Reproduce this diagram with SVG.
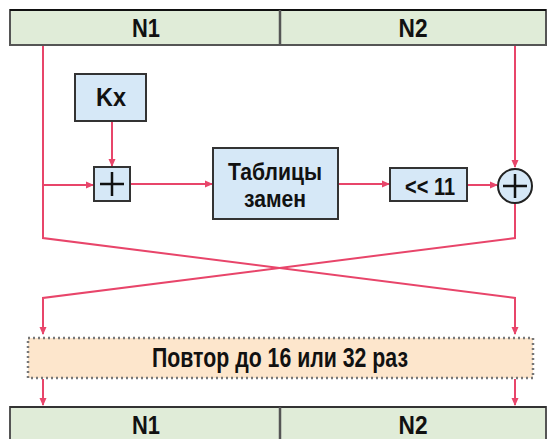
<svg xmlns="http://www.w3.org/2000/svg" width="549" height="439" viewBox="0 0 549 439">
<defs>
<marker id="ah" markerWidth="8" markerHeight="8" refX="7" refY="4" orient="auto" markerUnits="userSpaceOnUse">
<path d="M0,0.5 L8,4 L0,7.5 Z" fill="#e8456a"/>
</marker>
</defs>
<style>
.bar{fill:#e0ecd8;stroke:#555;stroke-width:2}
.box{fill:#d6e8f7;stroke:#333;stroke-width:2}
.rep{fill:#fde6cc;stroke:#777;stroke-width:2.5;stroke-dasharray:2 3}
.ln{fill:none;stroke:#e8456a;stroke-width:2}
.t{font-family:"Liberation Sans Narrow","Liberation Sans",Arial,sans-serif;font-weight:bold;fill:#111;text-anchor:middle}
.op{stroke:#111;stroke-width:2.5;fill:none}
</style>
<rect width="549" height="439" fill="#fff"/>
<g id="top">
<rect class="bar" x="10" y="10" width="536" height="35"/>
<line x1="10" y1="10" x2="546" y2="10" stroke="#111" stroke-width="2"/>
<line x1="280" y1="10" x2="280" y2="45" stroke="#555" stroke-width="2.5"/>
<text class="t" x="146" y="37" font-size="25" textLength="28" lengthAdjust="spacingAndGlyphs">N1</text>
<text class="t" x="413" y="37" font-size="25" textLength="29" lengthAdjust="spacingAndGlyphs">N2</text>
</g>
<g id="connectors">
<path class="ln" d="M43,46 V238 L515,298 V334" marker-end="url(#ah)"/>
<path class="ln" d="M515,46 V167" marker-end="url(#ah)"/>
<path class="ln" d="M515,203 V238 L43,298 V334" marker-end="url(#ah)"/>
<path class="ln" d="M43,185 H93" marker-end="url(#ah)"/>
<path class="ln" d="M112,122 V166" marker-end="url(#ah)"/>
<path class="ln" d="M131,184 H212" marker-end="url(#ah)"/>
<path class="ln" d="M339,184 H389" marker-end="url(#ah)"/>
<path class="ln" d="M467,185 H497" marker-end="url(#ah)"/>
<path class="ln" d="M43,379 V405" marker-end="url(#ah)"/>
<path class="ln" d="M515,379 V405" marker-end="url(#ah)"/>
</g>
<g id="kx">
<rect class="box" x="75" y="74" width="71" height="47"/>
<text class="t" x="111" y="106" font-size="25" textLength="30" lengthAdjust="spacingAndGlyphs">Kx</text>
</g>
<g id="add">
<rect class="box" x="94" y="167" width="36" height="34"/>
<path class="op" d="M100,184 H124 M112,172 V196"/>
</g>
<g id="tables">
<rect class="box" x="213" y="148" width="125" height="71"/>
<text class="t" x="275" y="180" font-size="24" textLength="94" lengthAdjust="spacingAndGlyphs">Таблицы</text>
<text class="t" x="275" y="207" font-size="24" textLength="62" lengthAdjust="spacingAndGlyphs">замен</text>
</g>
<g id="shift">
<rect class="box" x="390" y="168" width="77" height="33"/>
<text class="t" x="430" y="195" font-size="23" textLength="50" lengthAdjust="spacingAndGlyphs">&lt;&lt; 11</text>
</g>
<g id="xor">
<circle cx="515" cy="186" r="17" fill="#d6e8f7" stroke="#222" stroke-width="2"/>
<path class="op" d="M503,186 H527 M515,174 V198"/>
</g>
<g id="repeat">
<rect class="rep" x="28" y="338" width="505" height="40"/>
<text class="t" x="280" y="367" font-size="27" textLength="256" lengthAdjust="spacingAndGlyphs">Повтор до 16 или 32 раз</text>
</g>
<g id="bottom">
<rect class="bar" x="10" y="407" width="536" height="40"/>
<line x1="10" y1="407" x2="546" y2="407" stroke="#333" stroke-width="2"/>
<line x1="280" y1="407" x2="280" y2="439" stroke="#555" stroke-width="2.5"/>
<text class="t" x="146" y="434" font-size="25" textLength="28" lengthAdjust="spacingAndGlyphs">N1</text>
<text class="t" x="413" y="434" font-size="25" textLength="29" lengthAdjust="spacingAndGlyphs">N2</text>
</g>
</svg>
